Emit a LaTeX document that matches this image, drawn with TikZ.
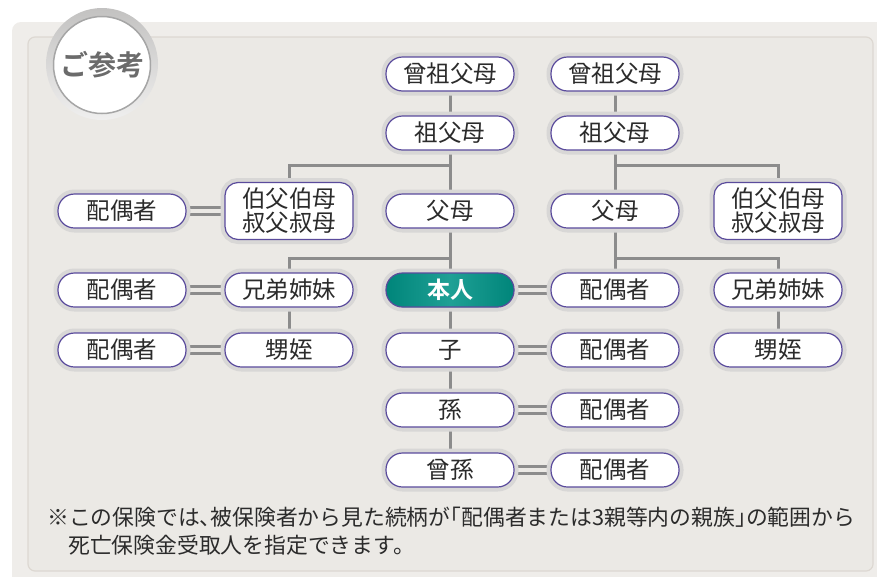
\documentclass[tikz,border=0pt]{standalone}
\usepackage{fontspec}
\newfontfamily\jp{Noto Sans CJK JP}
\newfontfamily\jph[RawFeature=+halt]{Noto Sans CJK JP}
\newfontfamily\jpb{Noto Sans CJK JP Bold}
\newcommand{\hp}[1]{{\jph #1}}
\usetikzlibrary{positioning}
\definecolor{panelA}{HTML}{EFEDEA}
\definecolor{panelB}{HTML}{EBE9E5}
\definecolor{panelLine}{HTML}{DDD8D2}
\definecolor{halo}{HTML}{D8D7D6}
\definecolor{pborder}{HTML}{5A4B9C}
\definecolor{conn}{HTML}{8C8C8C}
\definecolor{txt}{HTML}{2B2B2B}
\definecolor{teal}{HTML}{00857A}
\definecolor{tealL}{HTML}{1FA095}
\pgfdeclarelayer{panel}
\pgfdeclarelayer{links}
\pgfsetlayers{panel,links,main}
\tikzset{
  kin/.style={draw=pborder, line width=1.2pt, fill=white, rounded corners=16.5pt,
    minimum width=128pt, minimum height=34pt, inner sep=0pt, text=txt,
    font=\jp\fontsize{23.5}{25}\selectfont,
    preaction={draw=halo, line width=9pt}},
  kintall/.style={kin, rounded corners=13pt, minimum height=57pt, align=center,
    font=\jp\fontsize{23.5}{24}\selectfont},
  self/.style={kin, fill=teal, text=white, font=\jpb\fontsize{23}{25}\selectfont,
    left color=teal, right color=teal, middle color=tealL},
  link/.style={draw=conn, line width=3pt},
  dbl/.style={draw=conn, line width=2.6pt, double=panelB, double distance=4.4pt},
  note/.style={anchor=west, inner sep=0pt, text=txt, font=\jp\fontsize{21.8}{23}\selectfont}
}
\begin{document}
\begin{tikzpicture}[x=1pt, y=-1pt]
\useasboundingbox (0,0) rectangle (877,576);
% panel
\begin{pgfonlayer}{panel}
  \fill[white] (0,0) rectangle (877,576);
  \fill[panelA, rounded corners=9pt] (12,22) rectangle (900,600);
  \draw[panelLine, line width=1.2pt, rounded corners=7pt, fill=panelB] (28,37) rectangle (873,571);
\end{pgfonlayer}
% badge
\shade[top color=halo!90!black, bottom color=halo!40!white] (102,64) circle (56);
\node[circle, minimum size=97pt, fill=white, draw=gray!70, line width=1.5pt, inner sep=0pt,
  text=black!58, font=\jpb\fontsize{28}{30}\selectfont] (badge) at (102,65) {ご参考};
% central column
\node[kin] (ggpL) at (450,74) {曾祖父母};
\node[kin] (gpL) at (450,133) {祖父母};
\node[kin] (pL) at (450,211) {父母};
\node[self] (me) at (450,290) {本人};
\node[kin] (ch) at (450,350) {子};
\node[kin] (gc) at (450,410) {孫};
\node[kin] (ggc) at (450,470) {曾孫};
% right column
\node[kin] (ggpR) at (615,74) {曾祖父母};
\node[kin] (gpR) at (615,133) {祖父母};
\node[kin] (pR) at (615,211) {父母};
\node[kin] (spMe) at (615,290) {配偶者};
\node[kin] (spCh) at (615,350) {配偶者};
\node[kin] (spGc) at (615,410) {配偶者};
\node[kin] (spGgc) at (615,470) {配偶者};
% left side
\node[kintall] (ucL) at (289,211) {伯父伯母\\叔父叔母};
\node[kin] (sibL) at (289,290) {兄弟姉妹};
\node[kin] (npL) at (289,350) {甥姪};
\node[kin] (spUcL) at (122,211) {配偶者};
\node[kin] (spSibL) at (122,290) {配偶者};
\node[kin] (spNpL) at (122,350) {配偶者};
% far right
\node[kintall] (ucR) at (778,211) {伯父伯母\\叔父叔母};
\node[kin] (sibR) at (778,290) {兄弟姉妹};
\node[kin] (npR) at (778,350) {甥姪};
% junctions
\coordinate (jL) at (450,165);
\coordinate (jR) at (615,165);
\coordinate (kL) at (450,258);
\coordinate (kR) at (615,258);
% footnote
\node[note] (fn1) at (47,517) {※この保険では\hp{、}被保険者から見た続柄が\hp{「}配偶者または3親等内の親族\hp{」}の範囲から};
\node[note] (fn2) at (68,545) {死亡保険金受取人を指定できます。};
% links
\begin{pgfonlayer}{links}
  \draw[link] (ggpL) -- (gpL) -- (pL) -- (me) -- (ch) -- (gc) -- (ggc);
  \draw[link] (ggpR) -- (gpR) -- (pR) -- (spMe);
  \draw[link] (ucL.north) |- (jL);
  \draw[link] (ucR.north) |- (jR);
  \draw[link] (sibL.north) |- (kL);
  \draw[link] (sibR.north) |- (kR);
  \draw[link] (sibL) -- (npL);
  \draw[link] (sibR) -- (npR);
  \draw[dbl] (spUcL) -- (ucL);
  \draw[dbl] (spSibL) -- (sibL);
  \draw[dbl] (spNpL) -- (npL);
  \draw[dbl] (me) -- (spMe);
  \draw[dbl] (ch) -- (spCh);
  \draw[dbl] (gc) -- (spGc);
  \draw[dbl] (ggc) -- (spGgc);
\end{pgfonlayer}
\end{tikzpicture}
\end{document}
